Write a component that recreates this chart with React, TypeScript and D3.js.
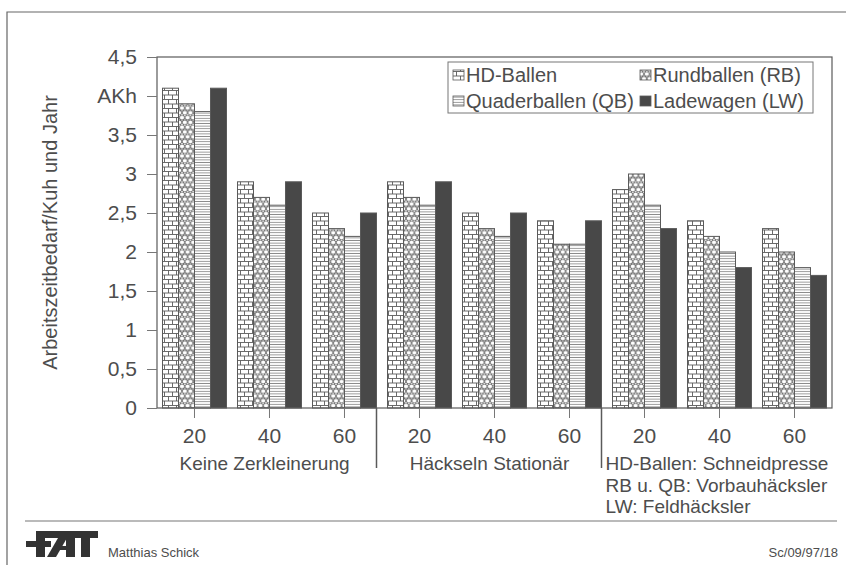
import React, { useEffect, useRef } from 'react';
import * as d3 from 'd3';

// categories (length of cut in mm) and section labels
const groups = ['20', '40', '60', '20', '40', '60', '20', '40', '60'];
const sections = ['Keine Zerkleinerung', 'Häckseln Stationär'];
const notes = ['HD-Ballen: Schneidpresse', 'RB u. QB: Vorbauhäcksler', 'LW: Feldhäcksler'];

// series values (AKh per cow and year)
const hdBallen = [4.1, 2.9, 2.5, 2.9, 2.5, 2.4, 2.8, 2.4, 2.3];
const rundballen = [3.9, 2.7, 2.3, 2.7, 2.3, 2.1, 3.0, 2.2, 2.0];
const quaderballen = [3.8, 2.6, 2.2, 2.6, 2.2, 2.1, 2.6, 2.0, 1.8];
const ladewagen = [4.1, 2.9, 2.5, 2.9, 2.5, 2.4, 2.3, 1.8, 1.7];

const seriesNames = ['HD-Ballen', 'Rundballen (RB)', 'Quaderballen (QB)', 'Ladewagen (LW)'];

// y ticks
const yTicks = [0, 0.5, 1, 1.5, 2, 2.5, 3, 3.5, 4, 4.5];
const yTickLabels = ['0', '0,5', '1', '1,5', '2', '2,5', '3', '3,5', 'AKh', '4,5'];

const FONT = "'Liberation Sans', Arimo, Arial, sans-serif";
const INK = '#4d4d4d';
const LINE = '#5a5a5a';

export default function App() {
  const svgRef = useRef<SVGSVGElement>(null);

  useEffect(() => {
    if (!svgRef.current) return;
    const svg = d3.select(svgRef.current);
    svg.selectAll('*').remove();

    const W = 853, H = 565;
    const margin = { top: 57, right: 21, bottom: 157, left: 157 };
    const x0 = margin.left, x1 = W - margin.right;
    const y0 = H - margin.bottom, y1 = margin.top;

    svg.append('rect').attr('width', W).attr('height', H).attr('fill', '#fff');

    // patterns
    const defs = svg.append('defs');
    const brick = defs.append('pattern').attr('id', 'brick')
      .attr('patternUnits', 'userSpaceOnUse').attr('width', 8).attr('height', 9);
    brick.append('rect').attr('width', 8).attr('height', 9).attr('fill', '#fff');
    brick.append('path')
      .attr('d', 'M0,0.5H8M0,5H8M0.5,0.5V5M4.5,5V9.5')
      .attr('stroke', LINE).attr('stroke-width', 0.9).attr('fill', 'none');

    const circ = defs.append('pattern').attr('id', 'circ')
      .attr('patternUnits', 'userSpaceOnUse').attr('width', 5.6).attr('height', 9.6);
    circ.append('rect').attr('width', 5.6).attr('height', 9.6).attr('fill', '#fff');
    [[2.8, 2.4], [0, 7.2], [5.6, 7.2]].forEach(([cx, cy]) => {
      circ.append('circle').attr('cx', cx).attr('cy', cy).attr('r', 2.5)
        .attr('fill', 'none').attr('stroke', LINE).attr('stroke-width', 0.9);
    });

    const hl = defs.append('pattern').attr('id', 'hlines')
      .attr('patternUnits', 'userSpaceOnUse').attr('width', 6).attr('height', 2.6);
    hl.append('rect').attr('width', 6).attr('height', 2.6).attr('fill', '#fff');
    hl.append('line').attr('x1', 0).attr('x2', 6).attr('y1', 1.3).attr('y2', 1.3)
      .attr('stroke', '#777').attr('stroke-width', 0.8);

    const fills = ['url(#brick)', 'url(#circ)', 'url(#hlines)', '#484848'];
    const values = [hdBallen, rundballen, quaderballen, ladewagen];

    // scales
    const x = d3.scaleBand<number>()
      .domain(d3.range(groups.length))
      .range([x0, x1])
      .paddingInner(0.1467)
      .paddingOuter(0.0733);
    const xSub = d3.scaleBand<number>()
      .domain(d3.range(seriesNames.length))
      .range([0, x.bandwidth()]);
    const y = d3.scaleLinear().domain([0, 4.5]).range([y0, y1]);

    // slide border
    svg.append('path')
      .attr('d', `M7,${H}V12H846`)
      .attr('fill', 'none').attr('stroke', '#666').attr('stroke-width', 1.2);

    // bars
    const g = svg.append('g');
    values.forEach((vals, s) => {
      g.selectAll(`.bar-${s}`)
        .data(vals)
        .enter()
        .append('rect')
        .attr('x', (_, i) => (x(i) as number) + (xSub(s) as number))
        .attr('y', d => y(d))
        .attr('width', xSub.bandwidth())
        .attr('height', d => y0 - y(d))
        .attr('fill', fills[s])
        .attr('stroke', LINE)
        .attr('stroke-width', 1);
    });

    // plot frame
    svg.append('rect')
      .attr('x', x0).attr('y', y1)
      .attr('width', x1 - x0).attr('height', y0 - y1)
      .attr('fill', 'none').attr('stroke', LINE).attr('stroke-width', 1.2);

    // y axis
    const yAxis = svg.append('g')
      .attr('transform', `translate(${x0},0)`)
      .call(d3.axisLeft(y).tickValues(yTicks).tickSize(10).tickPadding(10)
        .tickFormat((_, i) => yTickLabels[i]));
    yAxis.select('.domain').remove();
    yAxis.selectAll('line').attr('stroke', '#777');
    yAxis.selectAll('text').attr('font-family', FONT).attr('font-size', 21).attr('fill', INK);

    // x axis
    const xAxis = svg.append('g')
      .attr('transform', `translate(0,${y0})`)
      .call(d3.axisBottom(x).tickSize(10).tickPadding(10).tickFormat(i => groups[i as number]));
    xAxis.select('.domain').remove();
    xAxis.selectAll('line').attr('stroke', '#777');
    xAxis.selectAll('text').attr('font-family', FONT).attr('font-size', 21).attr('fill', INK);

    // section separators
    [2, 5].forEach(i => {
      const sx = (x(i) as number) + x.bandwidth();
      svg.append('line')
        .attr('x1', sx).attr('x2', sx).attr('y1', y0).attr('y2', y0 + 60)
        .attr('stroke', LINE).attr('stroke-width', 1.5);
    });

    // section labels
    sections.forEach((t, k) => {
      const mid = (x(k * 3 + 1) as number) + x.bandwidth() / 2 - 5;
      svg.append('text')
        .attr('x', mid).attr('y', y0 + 62)
        .attr('text-anchor', 'middle')
        .attr('font-family', FONT).attr('font-size', 19).attr('fill', INK)
        .text(t);
    });
    const noteX = (x(5) as number) + x.bandwidth() + 4;
    notes.forEach((t, k) => {
      svg.append('text')
        .attr('x', noteX).attr('y', y0 + 62 + k * 21.5)
        .attr('font-family', FONT).attr('font-size', 19).attr('fill', INK)
        .text(t);
    });

    // y axis title
    svg.append('text')
      .attr('transform', `translate(57,${(y0 + y1) / 2}) rotate(-90)`)
      .attr('text-anchor', 'middle')
      .attr('font-family', FONT).attr('font-size', 20).attr('fill', INK)
      .text('Arbeitszeitbedarf/Kuh und Jahr');

    // legend
    const legend = svg.append('g').attr('transform', 'translate(448,62)');
    legend.append('rect').attr('width', 365).attr('height', 51)
      .attr('fill', '#fff').attr('stroke', '#777').attr('stroke-width', 1);
    const legendPos = [[5, 13], [192, 13], [5, 39], [192, 39]];
    seriesNames.forEach((name, s) => {
      const [lx, ly] = legendPos[s];
      legend.append('rect')
        .attr('x', lx).attr('y', ly - 5).attr('width', 11).attr('height', 10)
        .attr('fill', fills[s]).attr('stroke', LINE).attr('stroke-width', 0.8);
      legend.append('text')
        .attr('x', lx + 13).attr('y', ly + 7)
        .attr('font-family', FONT).attr('font-size', 20).attr('fill', INK)
        .text(name);
    });

    // footer
    svg.append('line')
      .attr('x1', 25).attr('x2', 837).attr('y1', 521).attr('y2', 521)
      .attr('stroke', '#777').attr('stroke-width', 1.2);
    const logo = svg.append('g').attr('fill', '#333');
    logo.append('rect').attr('x', 36).attr('y', 531).attr('width', 62).attr('height', 7);
    logo.append('rect').attr('x', 26).attr('y', 541).attr('width', 25).attr('height', 6);
    logo.append('rect').attr('x', 36).attr('y', 531).attr('width', 9).attr('height', 26);
    logo.append('path').attr('d', 'M47,557L56,557L67,538L58,538Z');
    logo.append('rect').attr('x', 66).attr('y', 538).attr('width', 9).attr('height', 19);
    logo.append('rect').attr('x', 57).attr('y', 546).attr('width', 10).attr('height', 4);
    logo.append('rect').attr('x', 81).attr('y', 531).attr('width', 9).attr('height', 26);

    svg.append('text')
      .attr('x', 108).attr('y', 557)
      .attr('font-family', FONT).attr('font-size', 13).attr('fill', INK)
      .text('Matthias Schick');
    svg.append('text')
      .attr('x', 838).attr('y', 557).attr('text-anchor', 'end')
      .attr('font-family', FONT).attr('font-size', 13).attr('fill', INK)
      .text('Sc/09/97/18');
  }, []);

  return (
    <svg ref={svgRef} width={853} height={565}
      style={{ position: 'absolute', left: 0, top: 0, display: 'block' }} />
  );
}
